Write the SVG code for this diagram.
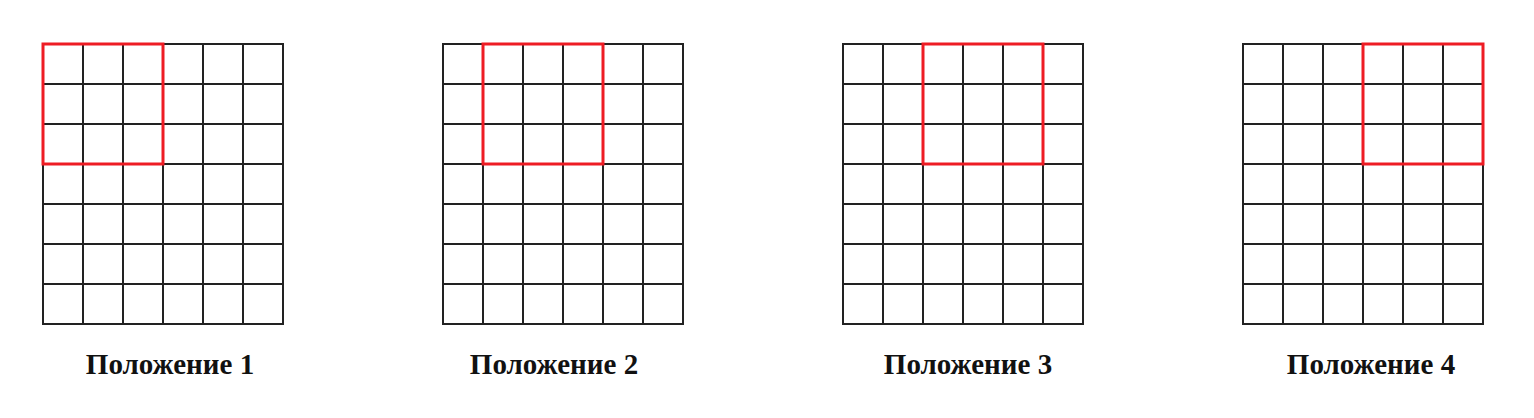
<svg xmlns="http://www.w3.org/2000/svg" width="1534" height="418" viewBox="0 0 1534 418">
<defs>
<style>
.g{fill:none;stroke:#222;stroke-width:2}
.r{fill:none;stroke:#ee1c24;stroke-width:3}
.t{font-family:"Liberation Serif",serif;font-weight:bold;font-size:29px;fill:#111;text-anchor:middle}
</style>
<g id="grid">
<path class="g" d="M0,0H240V280H0Z M40,0V280 M80,0V280 M120,0V280 M160,0V280 M200,0V280 M0,40H240 M0,80H240 M0,120H240 M0,160H240 M0,200H240 M0,240H240"/>
</g>
</defs>
<rect width="1534" height="418" fill="#fff"/>
<g id="pos1">
<use href="#grid" x="43" y="44"/>
<rect class="r" x="43" y="44" width="120" height="120"/>
<text class="t" x="170" y="374">Положение 1</text>
</g>
<g id="pos2">
<use href="#grid" x="443" y="44"/>
<rect class="r" x="483" y="44" width="120" height="120"/>
<text class="t" x="554" y="374">Положение 2</text>
</g>
<g id="pos3">
<use href="#grid" x="843" y="44"/>
<rect class="r" x="923" y="44" width="120" height="120"/>
<text class="t" x="968" y="374">Положение 3</text>
</g>
<g id="pos4">
<use href="#grid" x="1243" y="44"/>
<rect class="r" x="1363" y="44" width="120" height="120"/>
<text class="t" x="1371" y="374">Положение 4</text>
</g>
<g id="connectors"/>
</svg>
